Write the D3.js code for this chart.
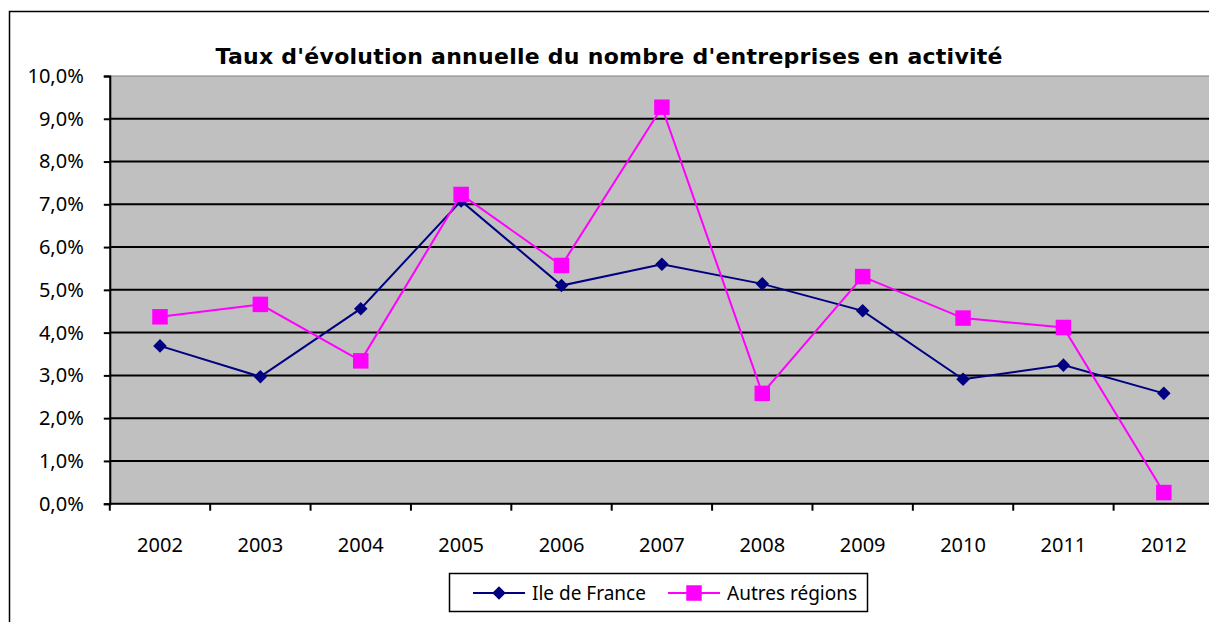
<!DOCTYPE html>
<meta charset="utf-8">
<script src="https://d3js.org/d3.v7.min.js"></script>
<style>
  body { margin: 0; background: white; }
  svg text { font-family: "Noto Sans", sans-serif; }
</style>
<div id="chart"></div>
<script>
// data
const years = ["2002", "2003", "2004", "2005", "2006", "2007", "2008", "2009", "2010", "2011", "2012"];
const ileDeFrance = [3.69, 2.97, 4.56, 7.08, 5.10, 5.60, 5.14, 4.51, 2.91, 3.24, 2.58];
const autresRegions = [4.37, 4.66, 3.34, 7.23, 5.57, 9.27, 2.58, 5.31, 4.34, 4.12, 0.26];
const yTicks = [0, 1, 2, 3, 4, 5, 6, 7, 8, 9, 10];

const W = 1209, H = 622;
const plot = {left: 109.8, right: 1214, top: 76, bottom: 503.7};

const svg = d3.select("#chart").append("svg")
  .attr("width", W)
  .attr("height", H);

// outer chart border (runs off the right and bottom)
svg.append("rect")
  .attr("x", 9.5).attr("y", 11.5)
  .attr("width", 1220).attr("height", 640)
  .attr("fill", "white")
  .attr("stroke", "black")
  .attr("stroke-width", 1.5);

// title
svg.append("text")
  .attr("x", 609).attr("y", 64)
  .attr("text-anchor", "middle")
  .attr("textLength", 787)
  .attr("lengthAdjust", "spacing")
  .style("font-family", "'DejaVu Sans', sans-serif")
  .style("font-weight", "bold")
  .style("font-size", "22px")
  .text("Taux d'évolution annuelle du nombre d'entreprises en activité");

const x = d3.scaleBand().domain(years).range([plot.left, plot.right]);
const y = d3.scaleLinear().domain([0, 10]).range([plot.bottom, plot.top]);

// plot area
svg.append("rect")
  .attr("x", plot.left).attr("y", plot.top)
  .attr("width", plot.right - plot.left)
  .attr("height", plot.bottom - plot.top)
  .attr("fill", "#c0c0c0")
  .attr("stroke", "#808080")
  .attr("stroke-width", 1);

// gridlines
svg.append("g").selectAll("line")
  .data(yTicks.filter(d => d > 0 && d < 10))
  .join("line")
  .attr("x1", plot.left).attr("x2", plot.right)
  .attr("y1", d => y(d)).attr("y2", d => y(d))
  .attr("stroke", "black")
  .attr("stroke-width", 2);

// y axis
const yAxis = svg.append("g")
  .attr("transform", `translate(${plot.left},0)`)
  .call(d3.axisLeft(y).tickValues(yTicks).tickSize(6).tickPadding(20)
    .tickFormat(d => d3.format(".1f")(d).replace(".", ",") + "%"));
yAxis.select(".domain").attr("stroke-width", 2);
yAxis.selectAll(".tick line").attr("stroke-width", 2);
yAxis.selectAll("text")
  .attr("font-family", null).attr("font-size", null)
  .style("font-size", "20px").attr("fill", "black");

// x axis with ticks between categories
const xAxis = svg.append("g")
  .attr("transform", `translate(0,${plot.bottom})`);
xAxis.append("line")
  .attr("x1", plot.left).attr("x2", plot.right)
  .attr("stroke", "black").attr("stroke-width", 2);
xAxis.selectAll(".sep")
  .data(years)
  .join("line")
  .attr("class", "sep")
  .attr("x1", d => x(d)).attr("x2", d => x(d))
  .attr("y1", 0).attr("y2", 7)
  .attr("stroke", "black").attr("stroke-width", 2);
xAxis.selectAll("text")
  .data(years)
  .join("text")
  .attr("x", d => x(d) + x.bandwidth() / 2)
  .attr("y", 48)
  .attr("text-anchor", "middle")
  .style("font-size", "20px")
  .text(d => d);

const cx = d => x(d) + x.bandwidth() / 2;
const line = d3.line().x((d, i) => cx(years[i])).y(d => y(d));

const series = [
  {name: "Ile de France", values: ileDeFrance, color: "#000080", symbol: d3.symbolSquare, size: 92, rotate: 45},
  {name: "Autres régions", values: autresRegions, color: "#ff00ff", symbol: d3.symbolSquare, size: 240, rotate: 0}
];

series.forEach(s => {
  svg.append("path")
    .datum(s.values)
    .attr("d", line)
    .attr("fill", "none")
    .attr("stroke", s.color)
    .attr("stroke-width", 2);
  svg.append("g").selectAll("path")
    .data(s.values)
    .join("path")
    .attr("transform", (d, i) => `translate(${cx(years[i])},${y(d)}) rotate(${s.rotate})`)
    .attr("d", d3.symbol(s.symbol, s.size))
    .attr("fill", s.color);
});

// legend
const legend = svg.append("g");
legend.append("rect")
  .attr("x", 449.5).attr("y", 573.5)
  .attr("width", 418).attr("height", 38)
  .attr("fill", "white")
  .attr("stroke", "black")
  .attr("stroke-width", 1.5);
const legendPos = [473, 668];
series.forEach((s, i) => {
  const lx = legendPos[i];
  legend.append("line")
    .attr("x1", lx).attr("x2", lx + 52)
    .attr("y1", 593).attr("y2", 593)
    .attr("stroke", s.color).attr("stroke-width", 2);
  legend.append("path")
    .attr("transform", `translate(${lx + 26},593) rotate(${s.rotate})`)
    .attr("d", d3.symbol(s.symbol, s.size))
    .attr("fill", s.color);
  legend.append("text")
    .attr("x", lx + 59).attr("y", 600)
    .style("font-size", "19px")
    .text(s.name);
});
</script>
